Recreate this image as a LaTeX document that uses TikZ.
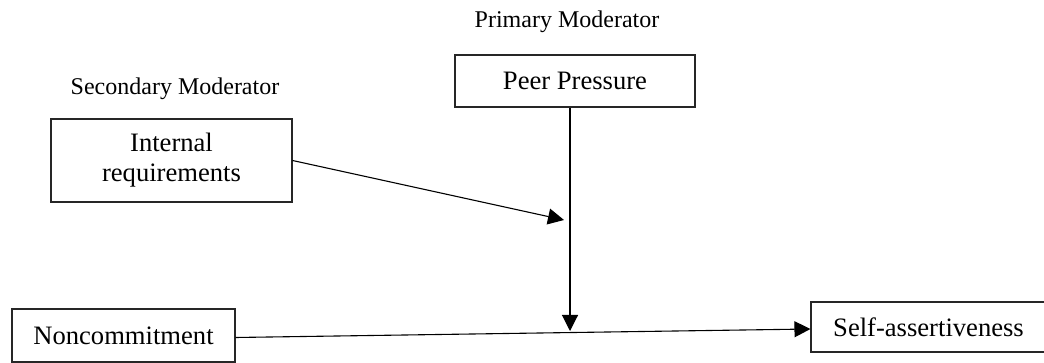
\documentclass[tikz,border=0pt]{standalone}
\usepackage{fontspec}
\setmainfont{Liberation Serif}
\usetikzlibrary{arrows.meta}
\begin{document}
\begin{tikzpicture}[x=0.5pt,y=-0.5pt,
  boxnode/.style={draw=black!85,line width=0.55pt,inner sep=0pt,align=center,
    font=\fontsize{13.3}{15}\selectfont},
  lbl/.style={inner sep=0pt,font=\fontsize{12}{14}\selectfont},
  conn/.style={line width=0.55pt,-{Triangle[length=8pt,width=8pt]}}]
\useasboundingbox (0,0) rectangle (1044,363);
\node[lbl] (secl) at (175,89) {Secondary Moderator};
\node[lbl] (priml) at (567,22) {Primary Moderator};
\node[boxnode,minimum width=120.5pt,minimum height=41.5pt] (ir) at (171.5,160.5) {Internal\\requirements};
\node[boxnode,minimum width=120pt,minimum height=26pt] (pp) at (575,81) {Peer Pressure};
\node[boxnode,minimum width=111.5pt,minimum height=26.5pt] (nc) at (123.5,335.5) {Noncommitment};
\node[boxnode,minimum width=117.5pt,minimum height=25pt] (sa) at (928.5,327) {Self-assertiveness};
\coordinate (m1) at (564,220);
\coordinate (m2) at (570,331);
\draw[conn] (ir.east) -- (m1);
\draw[conn] (pp.south -| m2) -- (m2);
\draw[conn] ([yshift=-1pt]nc.east) -- ([yshift=-1pt]sa.west);
\end{tikzpicture}
\end{document}
